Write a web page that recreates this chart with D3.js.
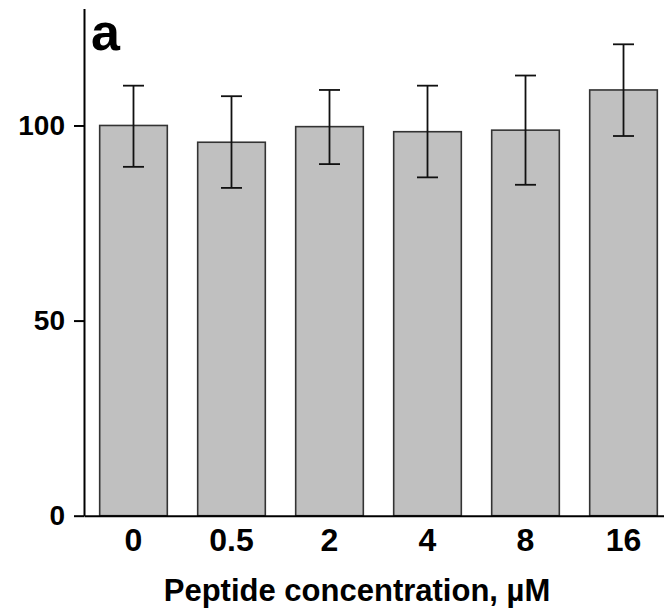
<!DOCTYPE html>
<html lang="en">
<head>
  <meta charset="utf-8">
  <title>Peptide concentration</title>
  <script src="https://cdn.jsdelivr.net/npm/d3@7"></script>
  <style>
    body { margin: 0; background: #fff; }
    text { font-family: "Liberation Sans", Arial, sans-serif; font-weight: bold; fill: #000; }
    .bar { fill: #c0c0c0; stroke: #333; stroke-width: 1.6; }
    .err { stroke: #111; stroke-width: 1.8; fill: none; }
  </style>
</head>
<body>
<script>
// values
var concentrations = ["0", "0.5", "2", "4", "8", "16"];
var means = [100, 95.7, 99.7, 98.4, 98.8, 109.1];
var upper = [110.2, 107.5, 109.1, 110.2, 112.8, 120.8];
var lower = [89.4, 84.0, 90.1, 86.7, 84.8, 97.3];
var yTicks = [0, 50, 100];

var width = 664;
var height = 608;

var svg = d3.select("body")
  .append("svg")
  .attr("width", width)
  .attr("height", height);

var x = d3.scaleBand()
  .domain(concentrations)
  .range([84, 673])
  .paddingInner(0.31)
  .paddingOuter(0.16);

var y = d3.scaleLinear()
  .domain([0, 130])
  .range([515.7, 8.4]);

// bars
svg.append("g").selectAll("rect")
  .data(concentrations)
  .enter()
  .append("rect")
  .attr("class", "bar")
  .attr("x", function(d) { return x(d); })
  .attr("width", x.bandwidth())
  .attr("y", function(d, i) { return y(means[i]); })
  .attr("height", function(d, i) { return y(0) - y(means[i]); });

// error bars
var capW = 10.5;
var err = svg.append("g").selectAll("g")
  .data(concentrations)
  .enter()
  .append("g")
  .attr("class", "err")
  .attr("transform", function(d) { return "translate(" + (x(d) + x.bandwidth() / 2) + ",0)"; });

err.append("line")
  .attr("y1", function(d, i) { return y(lower[i]); })
  .attr("y2", function(d, i) { return y(upper[i]); });
err.append("line")
  .attr("x1", -capW).attr("x2", capW)
  .attr("y1", function(d, i) { return y(upper[i]); })
  .attr("y2", function(d, i) { return y(upper[i]); });
err.append("line")
  .attr("x1", -capW).attr("x2", capW)
  .attr("y1", function(d, i) { return y(lower[i]); })
  .attr("y2", function(d, i) { return y(lower[i]); });

// x axis (line only, labels under the bars)
var xAxis = svg.append("g")
  .attr("transform", "translate(0," + y(0) + ")")
  .call(d3.axisBottom(x).tickSize(0).tickPadding(13));
xAxis.select(".domain").attr("stroke", "#000").attr("stroke-width", 2);
xAxis.selectAll("text").attr("font-size", 32);

// y axis
var yAxis = svg.append("g")
  .attr("transform", "translate(84,0)")
  .call(d3.axisLeft(y).tickValues(yTicks).tickSize(10).tickSizeOuter(0).tickPadding(9));
yAxis.select(".domain").attr("stroke", "#000").attr("stroke-width", 2);
yAxis.selectAll(".tick line").attr("stroke", "#000").attr("stroke-width", 2);
yAxis.selectAll("text").attr("font-size", 28);

// panel letter
svg.append("text")
  .attr("x", 91)
  .attr("y", 50)
  .attr("font-size", 52)
  .text("a");

// axis title
svg.append("text")
  .attr("x", 357)
  .attr("y", 601)
  .attr("text-anchor", "middle")
  .attr("font-size", 31)
  .text("Peptide concentration, \u00b5M");
</script>
</body>
</html>
